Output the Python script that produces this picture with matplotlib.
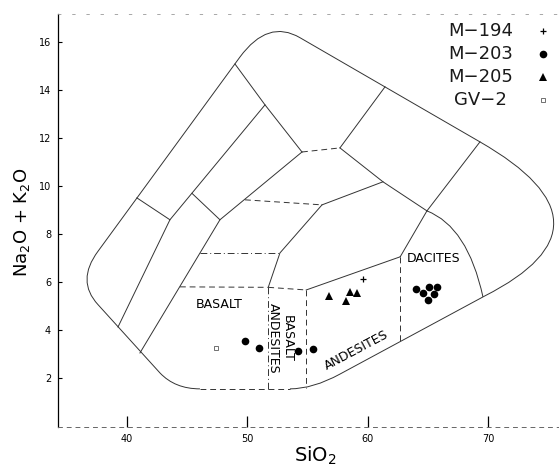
import matplotlib.pyplot as plt
from matplotlib.path import Path
from matplotlib.patches import PathPatch

# -------------------------------
# Sample analyses (SiO2 wt%, Na2O + K2O wt%)
# -------------------------------
m194_sio2 = [59.6]
m194_alk = [6.13]

m203_sio2 = [49.8, 51.0, 54.2, 55.5, 64.0, 64.6, 65.1, 65.75, 65.5, 65.0]
m203_alk = [3.55, 3.26, 3.14, 3.22, 5.72, 5.55, 5.80, 5.80, 5.51, 5.26]

m205_sio2 = [56.8, 58.5, 59.15, 58.2]
m205_alk = [5.42, 5.59, 5.53, 5.20]

gv2_sio2 = [47.4]
gv2_alk = [3.24]

legend_labels = ["M\u2212194", "M\u2212203", "M\u2212205", "GV\u22122"]

# -------------------------------
# Classification grid (SiO2, alkalis)
# -------------------------------
# rounded outer envelope: straight edges with quadratic corners
outline_pts = [(53.55, 1.556), (55.46, 1.556), (57.70, 2.171), (69.73, 5.424),
               (81.35, 8.378), (69.32, 11.83), (54.38, 16.165), (51.73, 16.95),
               (49.40, 15.36), (37.62, 7.28), (35.79, 6.05), (37.62, 5.06),
               (42.76, 2.22), (44.01, 1.556), (46.08, 1.556)]
outline_codes = [Path.MOVETO, Path.CURVE3, Path.CURVE3, Path.LINETO,
                 Path.CURVE3, Path.CURVE3, Path.LINETO, Path.CURVE3, Path.CURVE3,
                 Path.LINETO, Path.CURVE3, Path.CURVE3, Path.LINETO,
                 Path.CURVE3, Path.CURVE3]

solid_lines = [
    [(48.99, 15.07), (51.48, 13.37), (54.55, 11.41)],
    [(51.48, 13.37), (43.59, 8.59), (39.28, 4.13)],
    [(54.55, 11.41), (47.74, 8.59), (41.10, 3.05)],
    [(40.85, 9.50), (43.59, 8.59)],
    [(45.42, 9.69), (47.74, 8.59)],
    [(57.70, 11.58), (61.44, 14.12)],
    [(57.70, 11.58), (61.27, 10.17), (64.92, 8.96)],
    [(64.92, 8.96), (69.32, 11.83)],
    [(56.21, 9.21), (61.27, 10.17)],
    [(56.21, 9.21), (52.72, 7.21), (51.75, 5.78)],
    [(64.92, 8.96), (62.7, 7.05)],
    [(54.9, 5.67), (62.7, 7.05)],
]

# dacite / rhyolite boundary (curved)
dacite_curve = [(64.92, 8.96), (68.3, 8.3), (69.57, 5.38)]

dashed_lines = [
    [(54.55, 11.41), (57.70, 11.58)],
    [(49.82, 9.42), (56.21, 9.21)],
    [(44.42, 5.80), (51.75, 5.78)],
    [(51.75, 5.78), (54.9, 5.67)],
    [(54.9, 5.67), (54.9, 1.6)],
    [(62.7, 7.05), (62.7, 3.45)],
    [(46.08, 1.556), (53.55, 1.556)],
]

dashdot_lines = [
    [(46.08, 7.21), (52.72, 7.21)],
    [(51.75, 5.78), (51.75, 1.556)],
]

line_col = "0.2"

fig = plt.figure(figsize=(5.59, 4.66), dpi=100)
ax = fig.add_axes([58 / 559, 39 / 466, 501 / 559, 413 / 466])
ax.set_xlim(34.3, 75.88)
ax.set_ylim(-0.03, 17.15)

ax.add_patch(PathPatch(Path(outline_pts, outline_codes), fill=False,
                       edgecolor=line_col, lw=0.7, clip_on=False))
ax.add_patch(PathPatch(Path(dacite_curve, [Path.MOVETO, Path.CURVE3, Path.CURVE3]),
                       fill=False, edgecolor=line_col, lw=0.7))

for seg in solid_lines:
    xs, ys = zip(*seg)
    ax.plot(xs, ys, color=line_col, lw=0.7)
for seg in dashed_lines:
    xs, ys = zip(*seg)
    ax.plot(xs, ys, color=line_col, lw=0.7, linestyle=(0, (6, 4)))
for seg in dashdot_lines:
    xs, ys = zip(*seg)
    ax.plot(xs, ys, color=line_col, lw=0.7, linestyle=(0, (7, 3, 1, 3)))

# field names
ax.text(47.66, 5.05, "BASALT", fontsize=9, ha="center", va="center")
ax.text(52.74, 3.66, "BASALT\nANDESITES", fontsize=9, ha="center", va="center",
        rotation=-90, linespacing=1.05)
ax.text(59.11, 3.18, "ANDESITES", fontsize=9, ha="center", va="center", rotation=28)
ax.text(65.5, 7.0, "DACITES", fontsize=9, ha="center", va="center")

# samples
styles = [
    dict(marker="+", ms=4, mew=0.9, color="black"),
    dict(marker="o", ms=5.5, color="black", mew=0),
    dict(marker="^", ms=5.5, color="black", mew=0),
    dict(marker="s", ms=3, mfc="none", mec="0.35", mew=0.6),
]
series = [(m194_sio2, m194_alk), (m203_sio2, m203_alk),
          (m205_sio2, m205_alk), (gv2_sio2, gv2_alk)]
for (xs, ys), st in zip(series, styles):
    ax.plot(xs, ys, linestyle="none", **st)

# key in the upper right corner
for i, (lab, st) in enumerate(zip(legend_labels, styles)):
    yy = 0.959 - i * 0.0557
    ax.text(0.844, yy, lab, transform=ax.transAxes, fontsize=13,
            ha="center", va="center", color="0.1")
    ax.plot([0.968], [yy], transform=ax.transAxes, linestyle="none",
            clip_on=False, **st)

# axes frame
ax.spines["right"].set_visible(False)
ax.spines["left"].set_linewidth(0.9)
ax.spines["bottom"].set_linewidth(0.7)
ax.spines["bottom"].set_color("0.4")
ax.spines["bottom"].set_linestyle((0, (4, 5)))
ax.spines["top"].set_linewidth(0.6)
ax.spines["top"].set_color("0.6")
ax.spines["top"].set_linestyle((0, (3, 14)))

ax.set_xticks([40, 50, 60, 70])
ax.set_yticks([2, 4, 6, 8, 10, 12, 14, 16])
ax.tick_params(axis="x", direction="in", length=8, width=0.9, labelsize=7, pad=5)
ax.tick_params(axis="y", direction="in", length=3, width=0.8, labelsize=7, pad=5)

fig.text(22 / 559, 1 - 222 / 466, "Na$_2$O + K$_2$O", rotation=90,
         fontsize=13, ha="center", va="center")
fig.text(315 / 559, 1 - 456 / 466, "SiO$_2$", fontsize=14, ha="center", va="center")

fig.savefig("out.png", dpi=100)
